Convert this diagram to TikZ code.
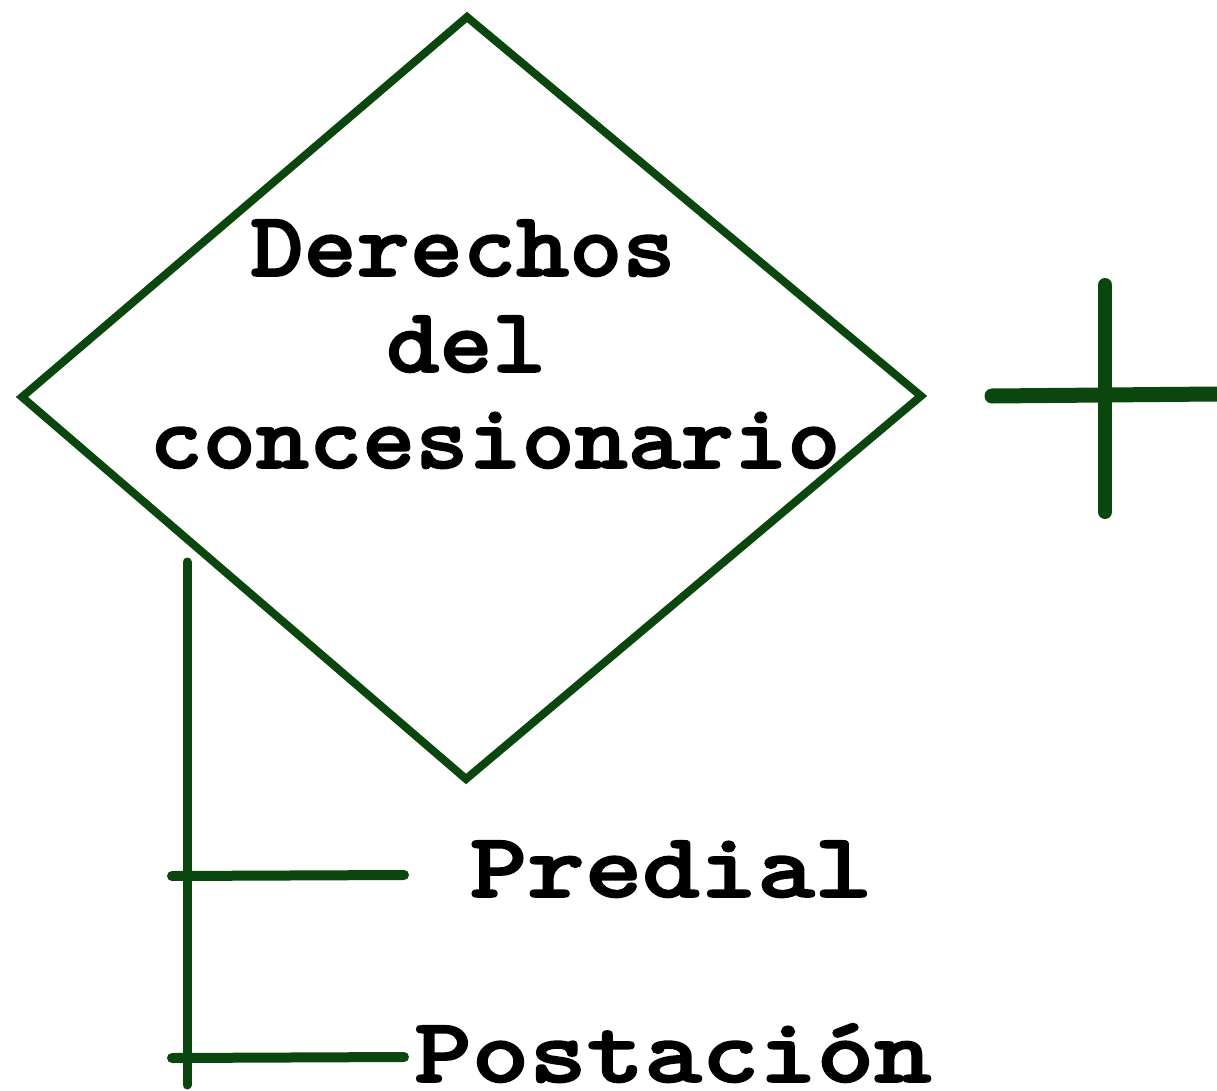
\documentclass[tikz,border=0pt]{standalone}
\usepackage{fontspec}
\usepackage{graphicx}
\definecolor{brush}{RGB}{10,70,14}
\newcommand{\courtxt}[3]{\scalebox{#2}[1]{\special{pdf:literal direct 2 Tr 1.6 w}\ttfamily\bfseries\fontsize{#1}{#1}\selectfont #3\special{pdf:literal direct 0 Tr}}}
\begin{document}
\begin{tikzpicture}[x=1pt,y=-1pt,
  stroke/.style={draw=brush,line cap=round,line join=miter},
  lbl/.style={anchor=base,inner sep=0pt,text=black}]
\useasboundingbox (0,0) rectangle (1217,1091);
% diamond corners
\coordinate (dt) at (467,17);
\coordinate (dr) at (921,396);
\coordinate (db) at (466,779);
\coordinate (dl) at (22,397);
\draw[stroke,line width=8] (dt) -- (dr) -- (db) -- (dl) -- cycle;
\node[lbl] (t1) at (463,276) {\courtxt{92}{1.10}{Derechos}};
\node[lbl] (t2) at (466,372) {\courtxt{92}{1.10}{del}};
\node[lbl] (t3) at (495,468) {\courtxt{92}{1.10}{concesionario}};
% plus sign
\coordinate (ph1) at (992,396);
\coordinate (ph2) at (1217,394);
\coordinate (pv1) at (1105,285);
\coordinate (pv2) at (1105,512);
\draw[stroke,line width=15] (ph1) -- (ph2);
\draw[stroke,line width=14] (pv1) -- (pv2);
% tree
\coordinate (v1) at (187,562);
\coordinate (v2) at (187,1085);
\draw[stroke,line width=9] (v1) -- (v2);
\node[lbl] (p1) at (671,897) {\courtxt{92}{1.19}{Predial}};
\node[lbl] (p2) at (673,1082) {\courtxt{92}{1.19}{Postación}};
\coordinate (b1s) at (172,876);
\coordinate (b1e) at (404,875);
\coordinate (b2s) at (172,1058);
\coordinate (b2e) at (404,1057);
\draw[stroke,line width=10] (b1s) -- (b1e);
\draw[stroke,line width=10] (b2s) -- (b2e);
\end{tikzpicture}
\end{document}
